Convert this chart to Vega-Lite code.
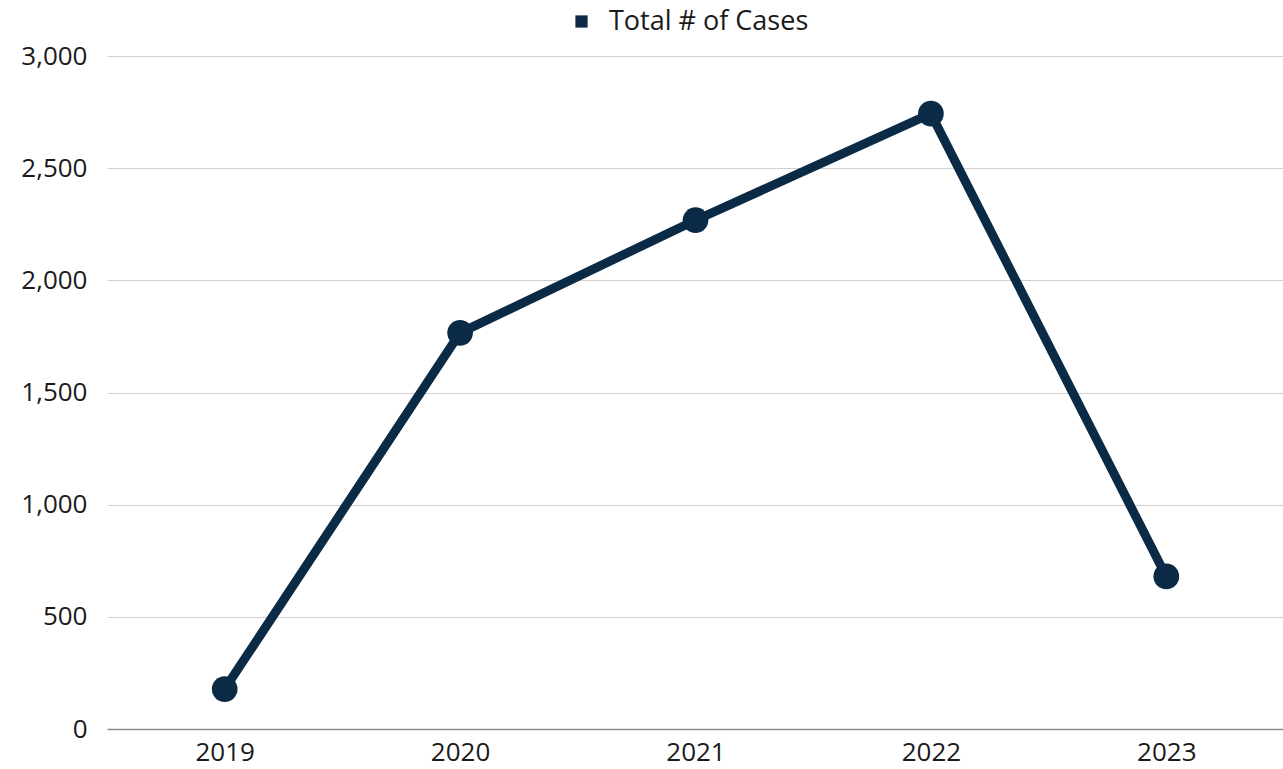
{
  "$schema": "https://vega.github.io/schema/vega-lite/v6.json",
  "autosize": "none",
  "padding": {"left": 107, "top": 56, "right": 0, "bottom": 40},
  "width": 1177,
  "height": 673,
  "background": "white",
  "config": {
    "view": {"stroke": null},
    "font": "Open Sans"
  },
  "data": {
    "values": [
      {"year": "2019", "series": "Total # of Cases", "cases": 178},
      {"year": "2020", "series": "Total # of Cases", "cases": 1766},
      {"year": "2021", "series": "Total # of Cases", "cases": 2268},
      {"year": "2022", "series": "Total # of Cases", "cases": 2743},
      {"year": "2023", "series": "Total # of Cases", "cases": 680}
    ]
  },
  "encoding": {
    "x": {
      "field": "year", "type": "ordinal", "title": null,
      "scale": {"paddingInner": 0, "paddingOuter": 0.5},
      "axis": {
        "labelAngle": 0, "labelFontSize": 26, "labelColor": "#1a1a1a",
        "labelFont": "Open Sans", "ticks": false, "labelPadding": 10,
        "domainColor": "#8a8a8a", "domainWidth": 1.3, "grid": false
      }
    },
    "y": {
      "field": "cases", "type": "quantitative", "title": null,
      "scale": {"domain": [0, 3000], "nice": false},
      "axis": {
        "values": [0, 500, 1000, 1500, 2000, 2500, 3000],
        "format": ",d", "labelFontSize": 26, "labelColor": "#1a1a1a",
        "labelFont": "Open Sans", "ticks": false, "domain": false,
        "labelPadding": 20, "gridColor": "#d0d0d0", "gridWidth": 1
      }
    },
    "color": {
      "field": "series", "type": "nominal",
      "scale": {"range": ["#0a2a45"]},
      "legend": {
        "title": null, "orient": "none", "legendX": 455, "legendY": -54,
        "symbolType": "square", "symbolSize": 150, "labelFontSize": 27,
        "labelColor": "#1a1a1a", "labelFont": "Open Sans", "symbolOpacity": 1,
        "symbolStrokeWidth": 0, "labelOffset": 14, "padding": 6, "labelLimit": 0
      }
    }
  },
  "layer": [
    {"mark": {"type": "line", "strokeWidth": 9}},
    {"mark": {"type": "point", "filled": true, "opacity": 1, "size": 660}}
  ]
}
